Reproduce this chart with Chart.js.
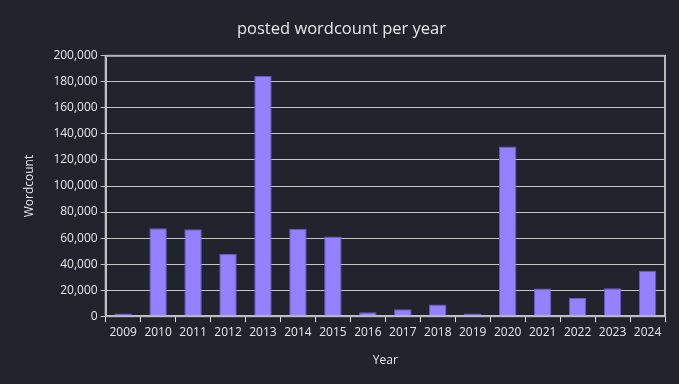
<!DOCTYPE html>
<html>
<head>
<meta charset="utf-8">
<script src="https://cdn.jsdelivr.net/npm/chart.js@4"></script>
<style>
  html, body { margin: 0; padding: 0; background: #22232d; }
  #wrap { width: 679px; height: 384px; }
</style>
</head>
<body>
<div id="wrap"><canvas id="chart"></canvas></div>
<script>
const years = ['2009', '2010', '2011', '2012', '2013', '2014', '2015', '2016',
               '2017', '2018', '2019', '2020', '2021', '2022', '2023', '2024'];
const wordcounts = [2000, 67500, 66800, 48000, 184700, 67100, 61300, 3100,
                    5400, 9000, 2000, 130300, 21300, 13900, 21500, 34900];
const yTicks = [0, 20000, 40000, 60000, 80000, 100000, 120000, 140000, 160000, 180000, 200000];

const textColor = '#e8e8ec';
const gridColor = '#c6c6c8';
const fontFamily = '"Open Sans", "Noto Sans", sans-serif';

// frame round the plot area (top/right edges)
const frame = {
    id: 'frame',
    afterDraw(chart) {
        const { ctx, chartArea: a } = chart;
        ctx.save();
        ctx.strokeStyle = '#b8b8bc';
        ctx.lineWidth = 2;
        ctx.strokeRect(a.left, a.top, a.right - a.left, a.bottom - a.top);
        ctx.restore();
    }
};

new Chart(document.getElementById('chart'), {
    type: 'bar',
    data: {
        labels: years,
        datasets: [{
            label: 'Wordcount',
            data: wordcounts,
            backgroundColor: '#9580ff',
            borderColor: '#6b5bc0',
            borderWidth: 1,
            barPercentage: 0.5,
            categoryPercentage: 1.0
        }]
    },
    options: {
        responsive: true,
        maintainAspectRatio: false,
        animation: false,
        layout: { padding: { left: 18, right: 14, top: 6, bottom: 12 } },
        plugins: {
            legend: { display: false },
            tooltip: { enabled: false },
            title: {
                display: true,
                text: 'posted wordcount per year',
                color: textColor,
                font: { family: fontFamily, size: 16.5, weight: 'normal' },
                padding: { top: 13, bottom: 17 }
            }
        },
        scales: {
            x: {
                grid: { drawOnChartArea: false, color: '#e0e0e0', tickLength: 6, offset: true },
                border: { color: '#e0e0e0', width: 2 },
                ticks: { color: textColor, font: { family: fontFamily, size: 12 }, maxRotation: 0, padding: 3 },
                title: {
                    display: true, text: 'Year', color: textColor,
                    font: { family: fontFamily, size: 12 }, padding: { top: 11 }
                }
            },
            y: {
                min: 0,
                max: 200000,
                afterBuildTicks(axis) { axis.ticks = yTicks.map(v => ({ value: v })); },
                grid: { color: gridColor, tickLength: 5, lineWidth: 1 },
                border: { color: '#e0e0e0', width: 2 },
                ticks: {
                    color: textColor,
                    font: { family: fontFamily, size: 12 },
                    padding: 3,
                    callback: v => v.toLocaleString('en-US')
                },
                title: {
                    display: true, text: 'Wordcount', color: textColor,
                    font: { family: fontFamily, size: 12 }, padding: { bottom: 14 }
                }
            }
        }
    },
    plugins: [frame]
});
</script>
</body>
</html>
